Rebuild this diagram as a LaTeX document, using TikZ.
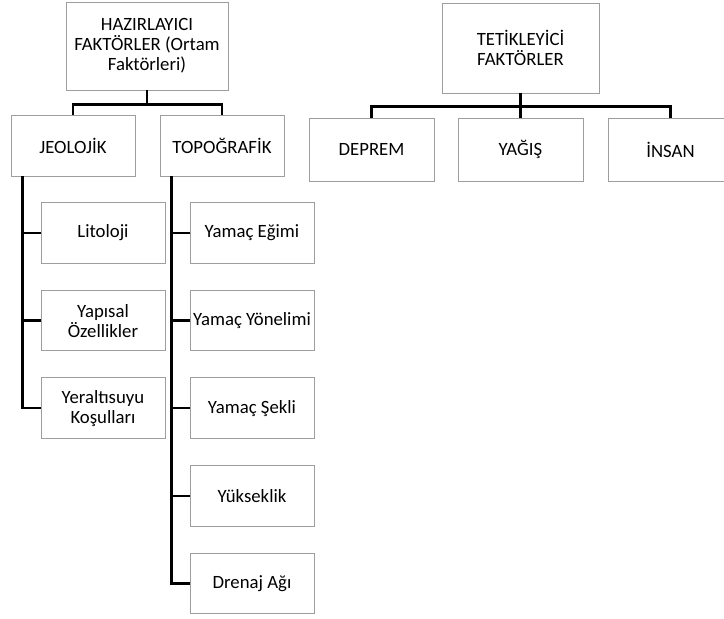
\documentclass[tikz,border=0pt]{standalone}
\usepackage{fontspec}
\setmainfont{Carlito}
\usepackage{tikz}

\begin{document}
\begin{tikzpicture}[x=0.03cm, y=-0.03cm, line join=miter,
  box/.style={draw=black!38, line width=0.8pt, align=center, inner sep=1pt,
    font=\fontsize{16}{17}\selectfont},
  head/.style={box, minimum width=4.86cm, minimum height=2.64cm},
  mid/.style={box, minimum width=3.72cm, minimum height=1.83cm},
  leaf/.style={box, minimum width=3.72cm, minimum height=1.82cm},
  conn/.style={line width=2.2pt}]

\useasboundingbox (0,0) rectangle (724,619);
\clip (0,0) rectangle (724,619);

% hazirlayici agaci
\node[head] (haz) at (147,46) {HAZIRLAYICI\\FAKTÖRLER (Ortam\\Faktörleri)};
\node[mid] (jeo) at (73,145.5) {JEOLOJİK};
\node[mid] (topo) at (222,145.5) {TOPOĞRAFİK};
\draw[conn] (haz.south) -- ++(0,14) -| (jeo.north);
\draw[conn] (haz.south) -- ++(0,14) -| (topo.north);

\foreach \n/\t [count=\i] in {lit/Litoloji, yap/{Yapısal\\Özellikler},
    yer/{Yeraltısuyu\\Koşulları}}
  \node[leaf] (\n) at (103,{233+87.6*(\i-1)}) {\t};
\foreach \n/\t [count=\i] in {egim/Yamaç Eğimi, yon/Yamaç Yönelimi,
    sek/Yamaç Şekli, yuk/Yükseklik, dre/Drenaj Ağı}
  \node[leaf] (\n) at (252,{233+87.6*(\i-1)}) {\t};

\coordinate (jspine) at ([xshift=0.36cm]jeo.south west);
\coordinate (tspine) at ([xshift=0.36cm]topo.south west);
\draw[conn] (jspine) |- (yer.west);
\foreach \n in {lit,yap}
  \draw[conn] (\n.west) -- (\n.west -| jspine);
\draw[conn] (tspine) |- (dre.west);
\foreach \n in {egim,yon,sek,yuk}
  \draw[conn] (\n.west) -- (\n.west -| tspine);

% tetikleyici agaci
\node[box, minimum width=4.71cm, minimum height=2.70cm] (tet) at (520.5,48)
  {TETİKLEYİCİ\\FAKTÖRLER};
\foreach \n/\t/\x in {dep/DEPREM/371.5, yag/YAĞIŞ/520.5, ins/İNSAN/670.5}
  \node[box, minimum width=3.75cm, minimum height=1.89cm] (\n) at (\x,149.5) {\t};
\foreach \n in {dep,yag,ins}
  \draw[conn] (tet.south) -- ++(0,13) -| (\n.north);

\end{tikzpicture}
\end{document}
